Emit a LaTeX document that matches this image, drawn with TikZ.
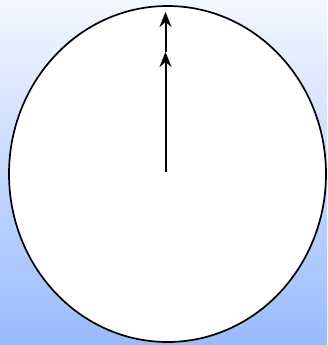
\documentclass[tikz,border=0pt]{standalone}
\usetikzlibrary{arrows.meta}
\definecolor{bgtop}{HTML}{F3F7FF}
\definecolor{bgbot}{HTML}{98BBFF}
\begin{document}
\begin{tikzpicture}[x=1pt,y=-1pt,
  vec/.style={line width=2pt,-{Stealth[length=15pt,width=12pt,inset=5pt]}}]
\shade[top color=bgtop,bottom color=bgbot] (0,0) rectangle (327,345);
\useasboundingbox (0,0) rectangle (327,345);
\draw[fill=white,line width=1.7pt] (167.5,174) ellipse [x radius=158.5,y radius=168];
\coordinate (c) at (165.5,172);
\coordinate (m) at (165.5,52);
\coordinate (t) at (165.5,12);
\draw[vec] (c) -- (m);
\draw[vec] (m) -- (t);
\end{tikzpicture}
\end{document}
